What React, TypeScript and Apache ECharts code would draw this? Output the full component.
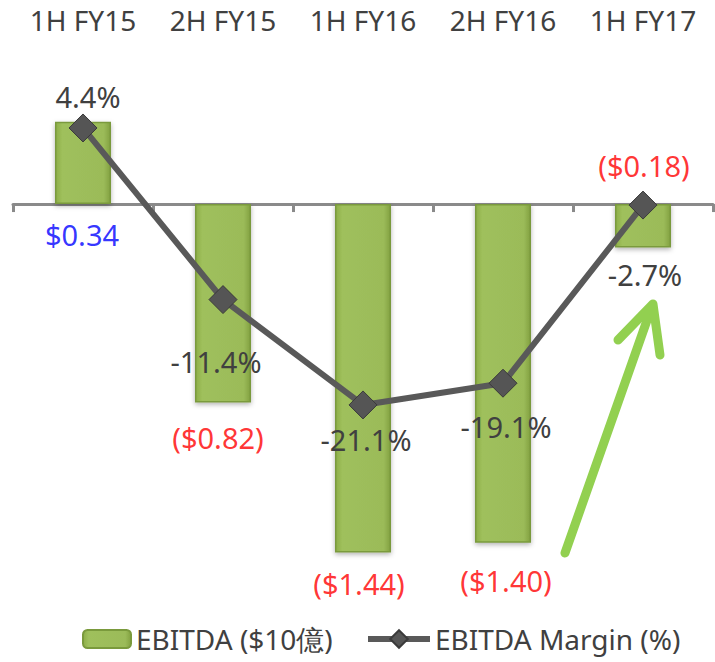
import React, { useEffect, useRef } from "react";
import * as echarts from "echarts";

const categories = ["1H FY15", "2H FY15", "1H FY16", "2H FY16", "1H FY17"];
const ebitda = [0.34, -0.82, -1.44, -1.4, -0.18];
const margin = [4.4, -11.4, -21.1, -19.1, -2.7];
const barName = "EBITDA ($10億)";
const lineName = "EBITDA Margin (%)";

// label offsets (annotation placement only)
const barLabelOffsets = [[-1, 113], [-5, 35], [-4, 31], [3, 38], [1, -82]];
const lineLabelOffsets = [[5, -31], [-7, 62], [3, 35], [3, 43], [2, 69]];

const FONT = "'Noto Sans', 'Open Sans', sans-serif";
const TXT = "#404040";

function fmtMoney(v: number) {
  const s = "$" + Math.abs(v).toFixed(2);
  return v < 0 ? "(" + s + ")" : s;
}

export default function App() {
  const ref = useRef<HTMLDivElement>(null);
  useEffect(() => {
    if (!ref.current) return;
    const chart = echarts.init(ref.current, undefined, { renderer: "svg" });
    const barFill = new echarts.graphic.LinearGradient(0, 0, 1, 0, [
      { offset: 0, color: "#8DAE48" },
      { offset: 0.12, color: "#9FC05C" },
      { offset: 0.88, color: "#9BBB59" },
      { offset: 1, color: "#83A241" },
    ]);
    chart.setOption({
      animation: false,
      backgroundColor: "#ffffff",
      grid: { left: 13, right: 2, top: 40, bottom: 72, containLabel: false },
      xAxis: [
        {
          type: "category",
          data: categories,
          position: "top",
          axisLine: { show: false },
          axisTick: { show: false },
          axisLabel: { color: TXT, fontSize: 28, fontFamily: FONT, margin: 6 },
        },
        {
          type: "category",
          data: categories,
          position: "bottom",
          axisLine: {
            show: true,
            onZero: true,
            onZeroAxisIndex: 0,
            lineStyle: { color: "#8A8A8A", width: 3 },
          },
          axisTick: { show: true, length: 8, lineStyle: { color: "#8A8A8A", width: 3 } },
          axisLabel: { show: false },
        },
      ],
      yAxis: [
        {
          type: "value",
          min: -1.595,
          max: 0.678,
          show: false,
          splitLine: { show: false },
        },
        {
          type: "value",
          min: -38.14,
          max: 12.5,
          show: false,
          splitLine: { show: false },
        },
      ],
      legend: [
        {
          data: [barName],
          left: 80,
          top: 623,
          itemWidth: 48,
          itemHeight: 18,
          padding: [2, 2, 2, 2],
          textStyle: { color: TXT, fontSize: 28, fontFamily: FONT },
        },
        {
          data: [lineName],
          left: 363,
          top: 623,
          itemWidth: 62,
          itemHeight: 22,
          padding: [2, 2, 2, 2],
          lineStyle: { width: 6, color: "#595959" },
          textStyle: { color: TXT, fontSize: 28, fontFamily: FONT },
        },
      ],
      series: [
        {
          name: barName,
          type: "bar",
          xAxisIndex: 0,
          yAxisIndex: 0,
          data: ebitda,
          barWidth: 56,
          itemStyle: {
            color: barFill,
            borderColor: "#7A9A3C",
            borderWidth: 1.5,
            shadowBlur: 5,
            shadowColor: "rgba(0,0,0,0.3)",
            shadowOffsetY: 2,
          },
          z: 2,
        },
        {
          name: "barLabels",
          type: "scatter",
          xAxisIndex: 0,
          yAxisIndex: 0,
          symbolSize: 1,
          itemStyle: { color: "rgba(0,0,0,0)" },
          silent: true,
          z: 5,
          data: ebitda.map((v, i) => ({
            value: v,
            label: {
              show: true,
              position: "inside",
              offset: barLabelOffsets[i],
              formatter: fmtMoney(v),
              color: v >= 0 ? "#0000FF" : "#FF0000",
              textBorderWidth: 0,
              fontSize: 29,
              fontFamily: FONT,
            },
          })),
        },
        {
          name: lineName,
          type: "line",
          xAxisIndex: 0,
          yAxisIndex: 1,
          data: margin.map((v, i) => ({
            value: v,
            label: {
              show: true,
              position: "inside",
              offset: lineLabelOffsets[i],
              formatter: v.toFixed(1) + "%",
              color: TXT,
              textBorderWidth: 0,
              fontSize: 29,
              fontFamily: FONT,
            },
          })),
          symbol: "diamond",
          symbolSize: 28,
          lineStyle: { color: "#595959", width: 6 },
          itemStyle: { color: "#555555", borderColor: "#3A3A3A", borderWidth: 1 },
          z: 4,
        },
      ],
      graphic: [
        {
          type: "line",
          z: 10,
          shape: { x1: 565, y1: 553, x2: 651, y2: 309 },
          style: { stroke: "#92D050", lineWidth: 9, lineCap: "round" },
        },
        {
          type: "polyline",
          z: 10,
          shape: { points: [[618, 340], [653, 304], [660, 355]] },
          style: { stroke: "#92D050", lineWidth: 9, lineCap: "round", lineJoin: "round", fill: "none" },
        },
      ],
    });
    return () => chart.dispose();
  }, []);
  return (
    <div
      ref={ref}
      style={{ position: "fixed", left: 0, top: 0, width: 715, height: 662 }}
    />
  );
}
